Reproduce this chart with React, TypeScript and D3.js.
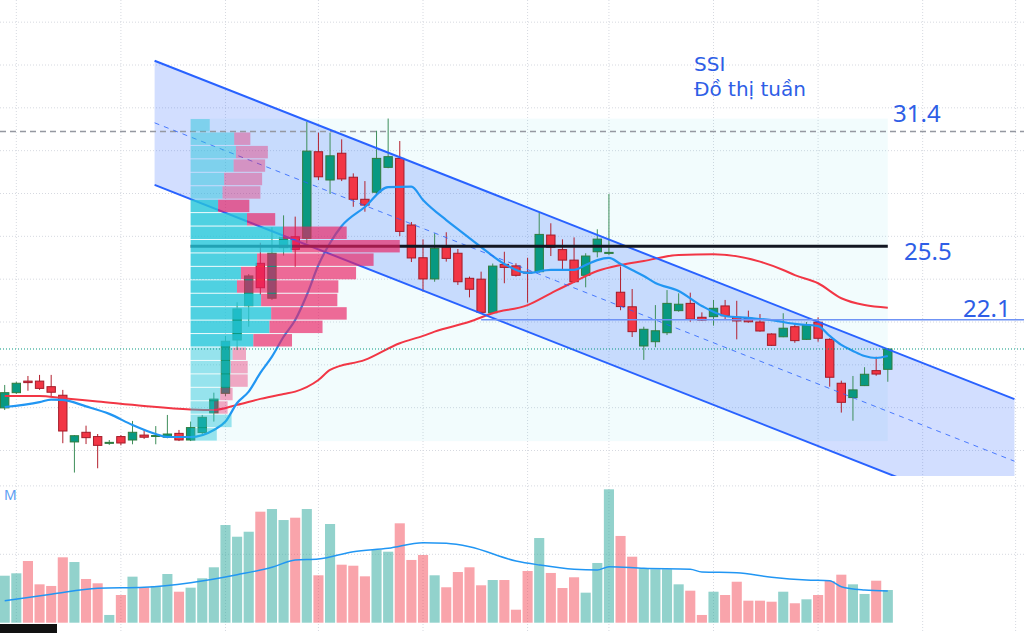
import React from 'react'
import * as d3 from 'd3'

// SSI weekly candles (price in thousand VND)
const opens = [
  17.99, 18.7, 19.24, 19.24, 18.98, 18.58, 16.4, 16.85, 16.65, 16.35,
  16.65, 16.49, 16.72, 16.69, 16.62, 16.8, 16.49, 16.84, 17.76, 18.67,
  21.16, 22.76, 24.74, 23.11, 25.47, 25.98, 25.91, 29.95, 28.63, 29.88,
  28.76, 27.73, 28.06, 29.22, 29.64, 26.53, 25.0, 24.01, 25.49, 25.21,
  24.04, 24.0, 22.43, 24.69, 24.62, 24.33, 24.35, 26.06, 25.38, 24.89,
  24.18, 25.28, 25.23, 23.39, 22.71, 20.88, 21.08, 21.5, 22.53, 22.87,
  22.22, 22.25, 22.75, 22.22, 22.17, 22.0, 21.44, 21.31, 21.78, 21.19,
  21.99, 21.19, 19.14, 18.47, 19.03, 19.73, 19.79,
]
const highs = [
  19.06, 19.21, 19.48, 19.53, 19.53, 18.83, 16.72, 17.16, 16.77, 16.49,
  16.72, 17.38, 16.99, 17.14, 17.66, 16.96, 17.35, 17.66, 18.7, 21.35,
  22.92, 24.24, 25.7, 26.42, 26.98, 26.92, 31.35, 30.84, 30.84, 30.53,
  28.94, 28.58, 30.93, 31.5, 30.45, 26.67, 25.86, 26.14, 26.19, 25.41,
  24.12, 24.35, 24.73, 25.28, 24.74, 25.0, 27.1, 26.61, 25.86, 25.95,
  25.21, 26.33, 27.98, 24.59, 23.54, 21.78, 22.79, 23.49, 23.34, 23.37,
  22.45, 23.03, 23.03, 22.99, 22.53, 22.37, 21.47, 22.41, 21.86, 22.0,
  22.22, 21.24, 19.26, 19.48, 19.89, 20.38, 20.77,
]
const lows = [
  17.89, 18.64, 18.79, 18.83, 18.51, 16.34, 14.97, 16.3, 15.17, 16.26,
  16.24, 16.29, 16.54, 16.29, 16.57, 16.44, 16.44, 16.77, 17.35, 18.54,
  20.69, 21.78, 23.26, 23.03, 25.1, 24.58, 25.67, 28.63, 27.98, 28.58,
  27.38, 27.15, 27.93, 29.18, 26.01, 24.8, 23.42, 23.88, 24.82, 23.73,
  23.15, 22.42, 22.37, 23.81, 24.12, 22.9, 24.3, 25.08, 24.4, 23.82,
  23.62, 25.02, 25.13, 22.55, 21.3, 20.23, 20.82, 21.39, 22.48, 22.01,
  22.05, 21.83, 22.13, 21.19, 21.97, 21.55, 20.88, 21.29, 21.03, 21.16,
  21.08, 18.98, 17.77, 17.39, 19.01, 19.49, 19.21,
]
const closes = [
  18.7, 19.14, 19.17, 18.9, 18.72, 16.91, 16.69, 16.6, 16.24, 16.38,
  16.35, 16.85, 16.62, 16.7, 16.77, 16.49, 17.07, 17.55, 18.4, 21.1,
  22.61, 24.15, 23.6, 25.21, 25.94, 25.39, 29.98, 28.78, 29.76, 28.68,
  27.73, 27.46, 29.64, 29.72, 26.23, 24.99, 24.01, 25.44, 24.97, 23.88,
  23.53, 22.45, 24.61, 24.55, 24.18, 24.3, 26.09, 25.49, 24.89, 23.88,
  25.08, 25.87, 25.25, 22.72, 21.55, 21.66, 21.59, 22.87, 22.83, 22.13,
  22.09, 22.64, 22.29, 22.05, 22.01, 21.58, 20.91, 21.71, 21.13, 21.86,
  21.24, 19.42, 18.25, 18.83, 19.56, 19.57, 20.74,
]
// weekly volume, million shares
const volumes = [
  68.7, 72.2, 90.2, 56.1, 53.7, 95.6, 88.7, 63.9, 57.6, 11.3,
  40.5, 67.3, 51.8, 53.7, 71.2, 45.3, 51.2, 64.9, 81.0, 142.8,
  125.7, 133.0, 162.3, 166.2, 150.1, 153.5, 166.2, 69.3, 144.3, 84.8,
  83.3, 67.8, 106.3, 103.8, 145.3, 91.7, 99.0, 69.3, 51.8, 74.1,
  81.0, 54.7, 62.4, 62.4, 19.0, 75.6, 123.8, 72.7, 50.7, 66.4,
  43.9, 87.3, 195.0, 126.8, 96.5, 79.5, 78.1, 78.1, 56.1, 46.8,
  11.3, 45.3, 40.5, 59.9, 32.2, 32.2, 30.7, 45.3, 28.4, 34.2,
  40.5, 61.0, 70.2, 56.1, 42.0, 61.4, 47.8,
]

// moving averages (candle index, value)
const maFastIdx = [0, 3, 4, 5, 7, 9, 11, 13, 14, 16, 18, 19, 20, 21, 22, 23, 24, 25, 26, 27, 28, 29, 31, 33, 35, 36, 38, 39, 41, 43, 45, 47, 49, 50, 51, 52, 53, 54, 55, 56, 58, 60, 62, 64, 66, 68, 70, 71, 72, 73, 74, 75, 76]
const maFastVal = [18.03, 18.26, 18.38, 18.36, 18.06, 17.71, 17.19, 16.77, 16.63, 16.63, 16.96, 17.35, 18.22, 18.75, 19.62, 20.38, 21.31, 22.09, 23.26, 24.66, 25.69, 26.48, 27.37, 28.3, 28.32, 27.7, 26.76, 26.34, 25.5, 24.71, 24.29, 24.43, 24.43, 24.66, 24.89, 24.99, 24.71, 24.43, 24.15, 23.82, 23.45, 22.75, 22.28, 22.19, 22.09, 21.91, 21.81, 21.35, 20.93, 20.65, 20.41, 20.32, 20.41]
const maSlowIdx = [0, 3, 5, 8, 12, 16, 18, 20, 22, 24, 25, 27, 28, 31, 34, 36, 37, 40, 42, 45, 47, 49, 51, 53, 55, 58, 61, 65, 67, 68, 70, 72, 74, 76]
const maSlowVal = [18.55, 18.55, 18.44, 18.29, 18.08, 17.92, 17.89, 18.13, 18.41, 18.64, 18.75, 19.29, 19.76, 20.23, 21.01, 21.35, 21.55, 22.01, 22.41, 22.79, 23.34, 23.88, 24.38, 24.66, 24.85, 25.13, 25.16, 24.82, 24.43, 24.19, 23.81, 23.11, 22.79, 22.67]
const volMaIdx = [0, 4, 8, 12, 16, 20, 23, 25, 27, 30, 33, 36, 38, 40, 44, 46, 49, 51, 52, 55, 59, 60, 63, 66, 69, 71, 72, 74, 76]
const volMaVal = [32.2, 41.5, 50.3, 51.8, 58.5, 70.2, 81.0, 91.7, 93.1, 103.8, 108.8, 117.0, 116.1, 111.1, 90.2, 84.4, 78.1, 77.0, 81.9, 79.5, 78.1, 74.1, 73.1, 66.4, 62.4, 61.4, 52.6, 47.8, 46.3]

// volume profile (top row = highest price), up / down volume
const profileUp = [19, 43.3, 45, 42.7, 33.3, 31.7, 27.3, 56, 91.7, 101, 66, 50, 46, 70, 80, 78.3, 62.3, 41.7, 40, 39.3, 29.3, 23.3, 40.7, 26]
const profileDown = [0, 16, 31.7, 31.3, 37.7, 37.6, 31, 28, 63.3, 106.7, 115.7, 114.3, 100.7, 75.7, 75, 52.7, 38.4, 13.3, 16.7, 17.4, 12.4, 13.4, 0, 0]
const valueAreaRows = [6, 16]
const profileFrom = 16
const profileTo = 76

// regression channel
const channelFrom = 12.9
const channelTo = 86.9
const channelUpper = [34.2, 18.4]
const channelWidth = 5.8

const priceTicks = [16, 18, 20, 22, 24, 26, 28, 30, 32, 34, 36]
const volumeTicks = [100, 200]
const monthIdx = [1, 10, 19, 27, 36, 45, 52, 61, 70, 79, 87]
const prevHigh = 30.9
const levelFrom = 41
const titleLines = ['SSI', 'Đồ thị tuần']
const labels = [
  { text: '31.4', price: 31.4, dx: 893, dy: 1 },
  { text: '25.5', price: 25.5, dx: 904, dy: 13 },
  { text: '22.1', price: 22.1, dx: 963, dy: -3 },
]

const W = 1024
const H = 633
const UP = '#089981'
const DOWN = '#f23645'
const BLUE = '#2962ff'

export default function App() {
  const x = d3.scaleLinear().domain([0, 76]).range([4.7, 887.8])
  const y = d3.scaleLinear().domain([22, 34]).range([322, 65])
  const yv = d3.scaleLinear().domain([0, 200]).range([622.7, 485.9])
  const step = x(1) - x(0)
  const bodyW = step * 0.72
  const volW = step * 0.87
  const paneBottom = 476

  const maLine = d3
    .line<[number, number]>()
    .x(d => x(d[0]))
    .y(d => y(d[1]))
    .curve(d3.curveMonotoneX)
  const volLine = d3
    .line<[number, number]>()
    .x(d => x(d[0]))
    .y(d => yv(d[1]))
    .curve(d3.curveMonotoneX)

  // profile geometry
  const rangeHigh = d3.max(highs.slice(profileFrom, profileTo + 1)) as number
  const rangeLow = d3.min(lows.slice(profileFrom, profileTo + 1)) as number
  const rowSize = (rangeHigh - rangeLow) / profileUp.length
  const totals = profileUp.map((u, i) => u + profileDown[i])
  const pocRow = totals.indexOf(d3.max(totals) as number)
  const pocPrice = rangeHigh - (pocRow + 0.5) * rowSize
  const boxLeft = x(profileFrom)
  const boxRight = x(profileTo)
  const pw = d3
    .scaleLinear()
    .domain([0, d3.max(totals) as number])
    .range([0, (boxRight - boxLeft) * 0.3])

  const upperAt = (i: number) =>
    channelUpper[0] + ((channelUpper[1] - channelUpper[0]) * (i - channelFrom)) / (channelTo - channelFrom)
  const chPoly = [
    [x(channelFrom), y(upperAt(channelFrom))],
    [x(channelTo), y(upperAt(channelTo))],
    [x(channelTo), y(upperAt(channelTo) - channelWidth)],
    [x(channelFrom), y(upperAt(channelFrom) - channelWidth)],
  ]
    .map(p => p.join(','))
    .join(' ')

  const last = closes[closes.length - 1]

  return (
    <div style={{ position: 'absolute', left: 0, top: 0 }}>
      <svg width={W} height={H} style={{ display: 'block', background: '#fff' }}>
        <defs>
          <clipPath id="pricePane">
            <rect x={0} y={0} width={W} height={paneBottom} />
          </clipPath>
        </defs>

        {/* grid */}
        {monthIdx.map(i => (
          <line key={'v' + i} x1={x(i)} x2={x(i)} y1={0} y2={H} stroke="#d6d9e0" strokeDasharray="1 2" />
        ))}
        {priceTicks.map(t => (
          <line key={'h' + t} x1={0} x2={W} y1={y(t)} y2={y(t)} stroke="#d6d9e0" strokeDasharray="1 2" />
        ))}
        {volumeTicks.map(t => (
          <line key={'vh' + t} x1={0} x2={W} y1={yv(t)} y2={yv(t)} stroke="#d6d9e0" strokeDasharray="1 2" />
        ))}

        <g clipPath="url(#pricePane)">
          {/* profile range box */}
          <rect
            x={boxLeft}
            y={y(rangeHigh)}
            width={boxRight - boxLeft}
            height={y(rangeLow) - y(rangeHigh)}
            fill="#00bcd4"
            opacity={0.05}
          />
          {/* channel fill */}
          <polygon points={chPoly} fill={BLUE} opacity={0.21} />

          <line x1={0} x2={W} y1={y(prevHigh)} y2={y(prevHigh)} stroke="#9598a1" strokeWidth={1.5} strokeDasharray="6 4" />

          {/* candles */}
          {opens.map((o, i) => {
            const c = closes[i]
            const up = c >= o
            const top = y(Math.max(o, c))
            const h = Math.max(1, Math.abs(y(o) - y(c)))
            return (
              <g key={'c' + i}>
                <line
                  x1={x(i)}
                  x2={x(i)}
                  y1={y(highs[i])}
                  y2={y(lows[i])}
                  stroke={up ? '#3e8e5a' : '#b3202e'}
                  strokeWidth={1}
                />
                <rect
                  x={x(i) - bodyW / 2}
                  y={top}
                  width={bodyW}
                  height={h}
                  fill={up ? UP : DOWN}
                  stroke={up ? '#2f7d3f' : '#a31b29'}
                  strokeWidth={1}
                />
              </g>
            )
          })}

          {/* moving averages */}
          <path
            d={maLine(maSlowIdx.map((d, k) => [d, maSlowVal[k]] as [number, number])) || ''}
            fill="none"
            stroke={DOWN}
            strokeWidth={2}
          />
          <path
            d={maLine(maFastIdx.map((d, k) => [d, maFastVal[k]] as [number, number])) || ''}
            fill="none"
            stroke="#2196f3"
            strokeWidth={2.2}
          />

          {/* channel lines */}
          <line
            x1={x(channelFrom)}
            x2={x(channelTo)}
            y1={y(upperAt(channelFrom))}
            y2={y(upperAt(channelTo))}
            stroke={BLUE}
            strokeWidth={2}
          />
          <line
            x1={x(channelFrom)}
            x2={x(channelTo)}
            y1={y(upperAt(channelFrom) - channelWidth)}
            y2={y(upperAt(channelTo) - channelWidth)}
            stroke={BLUE}
            strokeWidth={2}
          />
          <line
            x1={x(channelFrom)}
            x2={x(channelTo)}
            y1={y(upperAt(channelFrom) - channelWidth / 2)}
            y2={y(upperAt(channelTo) - channelWidth / 2)}
            stroke={BLUE}
            strokeWidth={1}
            strokeDasharray="5 5"
            opacity={0.8}
          />

          {/* point of control */}
          <line x1={boxLeft} x2={boxRight} y1={y(pocPrice)} y2={y(pocPrice)} stroke="#131722" strokeWidth={3} />

          {/* volume profile */}
          {profileUp.map((u, r) => {
            const top = y(rangeHigh - r * rowSize)
            const rh = y(rangeHigh - (r + 1) * rowSize) - top
            const inVa = r >= valueAreaRows[0] && r <= valueAreaRows[1]
            return (
              <g key={'p' + r}>
                <rect
                  x={boxLeft}
                  y={top + 0.5}
                  width={pw(u)}
                  height={rh - 1}
                  fill="#26c6da"
                  opacity={inVa ? 0.8 : 0.45}
                />
                {profileDown[r] > 0 && (
                  <rect
                    x={boxLeft + pw(u)}
                    y={top + 0.5}
                    width={pw(profileDown[r])}
                    height={rh - 1}
                    fill="#e91e63"
                    opacity={inVa ? 0.66 : 0.38}
                  />
                )}
              </g>
            )
          })}

          <line x1={x(levelFrom)} x2={W} y1={y(22.1)} y2={y(22.1)} stroke="#6f93f5" strokeWidth={1.5} />
          <line x1={0} x2={W} y1={y(last)} y2={y(last)} stroke={UP} strokeWidth={1} strokeDasharray="1 2" />
        </g>

        {/* texts */}
        <g fill="#2e5ee6">
          {titleLines.map((t, k) => (
            <text key={t} x={694} y={71 + k * 25} fontSize={20} fontFamily="'DejaVu Sans', sans-serif">
              {t}
            </text>
          ))}
          {labels.map(l => (
            <text
              key={l.text}
              x={l.dx}
              y={y(l.price) + l.dy}
              fontSize={24}
              fontFamily="'Noto Sans', sans-serif"
            >
              {l.text}
            </text>
          ))}
          <text x={4} y={500} fontSize={14} fill="#5b9cf2" fontFamily="'Noto Sans', sans-serif">
            M
          </text>
        </g>

        {/* volume */}
        {volumes.map((v, i) => (
          <rect
            key={'vb' + i}
            x={x(i) - volW / 2}
            y={yv(v)}
            width={volW}
            height={yv(0) - yv(v)}
            fill={closes[i] >= opens[i] ? '#26a69a' : '#f23645'}
            opacity={closes[i] >= opens[i] ? 0.5 : 0.45}
          />
        ))}
        <path
          d={volLine(volMaIdx.map((d, k) => [d, volMaVal[k]] as [number, number])) || ''}
          fill="none"
          stroke="#2196f3"
          strokeWidth={1.5}
        />

        <rect x={0} y={624} width={57} height={9} fill="#111" />
      </svg>
    </div>
  )
}
